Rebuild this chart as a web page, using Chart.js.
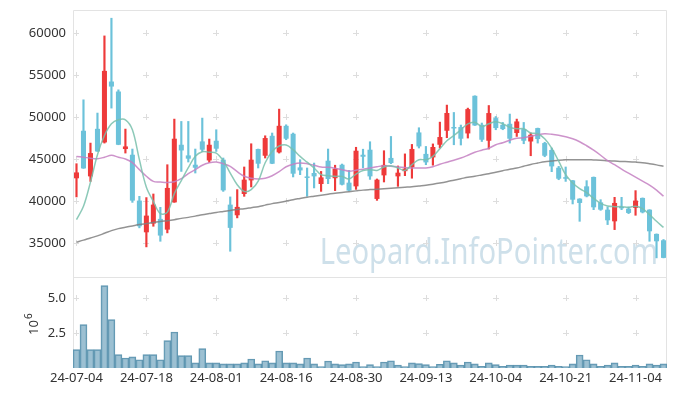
<!DOCTYPE html>
<html>
<head>
<meta charset="utf-8">
<script src="https://cdn.jsdelivr.net/npm/chart.js@4.4.1/dist/chart.umd.min.js"></script>
<style>
  html, body { margin: 0; padding: 0; background: #fff; }
</style>
</head>
<body>
<canvas id="stockChart" width="677" height="396"></canvas>
<script>
// Trading days shown on the x axis
const dates = [
  '24-07-04','24-07-05','24-07-08','24-07-09','24-07-10','24-07-11','24-07-12','24-07-15','24-07-16','24-07-17',
  '24-07-18','24-07-19','24-07-22','24-07-23','24-07-24','24-07-25','24-07-26','24-07-29','24-07-30','24-07-31',
  '24-08-01','24-08-02','24-08-05','24-08-06','24-08-07','24-08-08','24-08-09','24-08-12','24-08-13','24-08-14',
  '24-08-16','24-08-19','24-08-20','24-08-21','24-08-22','24-08-23','24-08-26','24-08-27','24-08-28','24-08-29',
  '24-08-30','24-09-02','24-09-03','24-09-04','24-09-05','24-09-06','24-09-09','24-09-10','24-09-11','24-09-12',
  '24-09-13','24-09-19','24-09-20','24-09-23','24-09-24','24-09-25','24-09-26','24-09-27','24-09-30','24-10-02',
  '24-10-04','24-10-07','24-10-08','24-10-10','24-10-11','24-10-14','24-10-15','24-10-16','24-10-17','24-10-18',
  '24-10-21','24-10-22','24-10-23','24-10-24','24-10-25','24-10-28','24-10-29','24-10-30','24-10-31','24-11-01',
  '24-11-04','24-11-05','24-11-06','24-11-07','24-11-08'
];

// Daily prices
const openPrices = [
  42700,48370,42930,48600,46980,54240,53050,46190,45510,40040,
  36260,37300,37860,36580,39830,46700,45430,44320,47100,44830,
  47180,44920,39560,38290,40830,42450,46190,45390,47770,45790,
  48960,48010,44000,42780,43330,42020,44800,42710,44320,42180,
  41740,45510,46110,40240,43050,45130,42930,43550,44000,48170,
  45610,45190,46700,48370,48730,48810,48050,52540,49080,47180,
  49880,49080,49200,48100,48570,47090,48690,46900,46070,43960,
  42810,42450,40270,41740,42860,39830,38960,37570,39290,39080,
  39170,40360,38960,36070,35310
];
const highPrices = [
  44440,52060,46900,50480,59680,61790,53250,48570,46190,40550,
  40400,40830,39240,44320,49760,49480,49480,46190,49880,47380,
  48490,45120,40480,41350,44050,46820,46190,47770,48100,50950,
  49080,48100,44920,43930,44520,43520,46190,44260,44400,43640,
  46400,46170,47060,42620,45990,47690,44170,45610,46740,48730,
  46500,46800,49400,51430,50550,49050,51070,52540,49290,51380,
  50070,49360,50360,49760,49360,48100,48690,47000,46310,44120,
  44050,42450,40270,42420,42860,40150,39290,40430,40430,39290,
  41230,40360,38960,36070,35400
];
const lowPrices = [
  40480,43880,42330,45900,46900,51070,46700,45710,39830,36790,
  34520,36980,35190,36190,39830,43520,44640,43330,45900,44600,
  45900,41140,34000,37980,40550,41670,43930,45120,44440,45710,
  47300,42860,43130,40550,41550,41140,42060,41230,41900,41200,
  41380,43960,42570,40070,42260,44440,41740,43010,42710,46310,
  44320,44260,46310,47540,46700,46670,47500,49000,47090,46190,
  48490,48490,46900,47690,46820,45390,46900,45270,43490,42530,
  42330,39640,37570,40480,38960,38880,37180,36580,38960,38490,
  38290,38570,35190,33210,33210
];
const closePrices = [
  43400,43880,45710,45900,55510,53640,46700,46500,40040,36980,
  38250,39560,35870,41550,47420,46020,45040,43960,46110,46700,
  46230,41260,36790,39290,42540,44920,44440,47500,44440,48960,
  47420,43250,43640,42740,42930,42810,42620,43850,41940,41230,
  45990,45270,42930,42540,44300,44520,43370,43850,46200,46500,
  44600,46430,47620,50490,48640,47420,50950,49000,47300,50480,
  48690,48570,47420,49480,47180,47890,47380,45390,44120,42650,
  42650,40150,39760,40550,39240,38960,37690,39760,39120,38570,
  40040,38640,36380,35190,33210
];

// Moving averages as drawn
const ma5 = [
  37770,39360,42240,45510,47800,49200,49680,49680,48490,44920,
  41640,39950,38490,38670,40870,42420,43960,45330,45870,45810,
  45710,44800,43330,41940,41140,41350,42360,44560,45900,46550,
  46670,46110,45310,44620,43930,43130,43010,42930,42930,42620,
  43210,43640,43730,43640,44050,44200,43930,43640,44320,44920,
  44920,45310,46230,47180,47800,48490,49200,49380,48880,49200,
  49440,49200,48790,48610,48610,48100,48010,47420,46310,44740,
  43130,42140,41460,40990,40300,39710,39400,39320,39320,39230,
  39360,39080,38370,37570,36850
];
const ma20 = [
  45310,45210,45100,45040,45210,45450,45210,45000,44560,43730,
  42950,42330,42260,42210,42300,42650,43250,43730,44260,44560,
  44650,44440,44120,43490,42950,42710,42620,42710,43010,43490,
  44080,44380,44520,44440,44260,44050,44020,43900,43730,43550,
  43670,43790,43930,44080,44200,44140,44060,43990,43930,43930,
  43930,44080,44380,44620,44860,45120,45450,45810,46050,46290,
  46700,46940,47240,47480,47540,47710,47890,48010,47950,47830,
  47650,47420,47060,46580,46050,45450,44800,44320,43790,43310,
  42830,42360,41880,41290,40570
];
const ma60 = [
  35090,35330,35590,35830,36140,36460,36700,36860,37020,37180,
  37300,37420,37560,37650,37770,37920,38040,38190,38350,38490,
  38630,38750,38870,38990,39080,39200,39320,39500,39680,39820,
  39980,40150,40300,40450,40570,40690,40810,40930,41020,41110,
  41200,41290,41350,41400,41460,41520,41580,41640,41700,41790,
  41880,42000,42140,42300,42480,42650,42830,42950,43100,43250,
  43430,43610,43790,43930,44140,44350,44520,44680,44770,44860,
  44920,44920,44920,44920,44890,44860,44800,44760,44710,44680,
  44630,44560,44440,44300,44130
];

// Daily volume (shares)
const volumes = [
  1310000,3090000,1310000,1310000,5880000,3450000,950000,710000,790000,590000,
  950000,950000,590000,1950000,2570000,880000,880000,360000,1380000,360000,
  360000,290000,290000,290000,360000,640000,290000,520000,360000,1210000,
  360000,360000,290000,710000,290000,110000,500000,290000,240000,290000,
  430000,110000,240000,110000,430000,520000,210000,110000,360000,310000,
  240000,110000,270000,520000,360000,210000,430000,290000,120000,360000,
  240000,120000,210000,210000,210000,120000,120000,120000,210000,120000,
  110000,290000,930000,590000,290000,120000,210000,360000,120000,120000,
  210000,120000,290000,210000,290000
];

// Axis ticks
const priceTicks = [35000, 40000, 45000, 50000, 55000, 60000];
const volumeTicks = [2500000, 5000000];
const labelStep = 10;

const upColor = '#EE3A3A';
const downColor = '#6CC2DA';
const candleColors = openPrices.map((o, i) => closePrices[i] >= o ? upColor : downColor);
const bodies = openPrices.map((o, i) => [o, closePrices[i]]);
const wicks = lowPrices.map((l, i) => [l, highPrices[i]]);

const labelFont = { family: 'Noto Sans', size: 13 };
const textColor = '#333';

// the y axes should not push the plot area in
function fixAxis(s) {
  s.width = 73;
  s.paddingTop = 0;
  s.paddingBottom = 0;
}

// Draws the frame, the little "+" grid marks, the watermark and the 10^6 title
const decorPlugin = {
  id: 'decor',
  beforeDatasetsDraw(chart) {
    const { ctx, chartArea, scales } = chart;
    const x = scales.x, y = scales.y, yv = scales.yv;

    ctx.save();
    ctx.font = '36px "Noto Sans"';
    ctx.fillStyle = 'rgba(165, 198, 216, 0.55)';
    ctx.textAlign = 'right';
    ctx.textBaseline = 'alphabetic';
    ctx.translate(chartArea.right - 9, y.bottom - 13);
    ctx.scale(0.81, 1);
    ctx.fillText('Leopard.InfoPointer.com', 0, 0);
    ctx.restore();

    ctx.save();
    ctx.strokeStyle = '#dddddd';
    ctx.lineWidth = 1;
    const cross = (px, py) => {
      ctx.beginPath();
      ctx.moveTo(px - 3, py + 0.5); ctx.lineTo(px + 3, py + 0.5);
      ctx.moveTo(px + 0.5, py - 3); ctx.lineTo(px + 0.5, py + 3);
      ctx.stroke();
    };
    for (let i = 0; i < dates.length; i += labelStep) {
      const px = Math.round(x.getPixelForValue(i));
      priceTicks.forEach(v => cross(px, Math.round(y.getPixelForValue(v))));
      volumeTicks.forEach(v => cross(px, Math.round(yv.getPixelForValue(v))));
    }

    ctx.strokeStyle = '#e3e3e3';
    ctx.beginPath();
    ctx.moveTo(chartArea.left + 0.5, chartArea.bottom);
    ctx.lineTo(chartArea.left + 0.5, chartArea.top + 0.5);
    ctx.lineTo(chartArea.right - 0.5, chartArea.top + 0.5);
    ctx.lineTo(chartArea.right - 0.5, chartArea.bottom);
    ctx.moveTo(chartArea.left, Math.round(y.bottom) + 0.5);
    ctx.lineTo(chartArea.right, Math.round(y.bottom) + 0.5);
    ctx.stroke();
    ctx.restore();
  },
  afterDraw(chart) {
    const { ctx, scales } = chart;
    const yv = scales.yv;
    ctx.save();
    ctx.translate(38, (yv.top + yv.bottom) / 2 + 2);
    ctx.rotate(-Math.PI / 2);
    ctx.fillStyle = textColor;
    ctx.font = '13px "Noto Sans"';
    ctx.textBaseline = 'alphabetic';
    const w = ctx.measureText('10').width;
    ctx.fillText('10', -w / 2 - 3, 0);
    ctx.font = '10px "Noto Sans"';
    ctx.fillText('6', w / 2 - 2, -6);
    ctx.restore();
  }
};

const stockChart = new Chart(document.getElementById('stockChart').getContext('2d'), {
  type: 'bar',
  data: {
    labels: dates,
    datasets: [
      {
        type: 'line', label: 'MA5', data: ma5, yAxisID: 'y',
        borderColor: 'rgba(120, 192, 172, 0.85)', borderWidth: 1.5,
        pointRadius: 0, tension: 0.35, order: 0
      },
      {
        type: 'line', label: 'MA20', data: ma20, yAxisID: 'y',
        borderColor: 'rgba(196, 128, 194, 0.85)', borderWidth: 1.5,
        pointRadius: 0, tension: 0.35, order: 0
      },
      {
        type: 'line', label: 'MA60', data: ma60, yAxisID: 'y',
        borderColor: 'rgba(128, 128, 128, 0.85)', borderWidth: 1.5,
        pointRadius: 0, tension: 0.35, order: 0
      },
      {
        label: 'Body', data: bodies, yAxisID: 'y',
        backgroundColor: candleColors, borderWidth: 0,
        grouped: false, barPercentage: 0.72, categoryPercentage: 1,
        minBarLength: 1.5, order: 1
      },
      {
        label: 'Wick', data: wicks, yAxisID: 'y',
        backgroundColor: candleColors, borderWidth: 0,
        grouped: false, barThickness: 1.5, order: 2
      },
      {
        label: 'Volume', data: volumes, yAxisID: 'yv',
        backgroundColor: 'rgba(118, 168, 192, 0.72)',
        borderColor: 'rgba(80, 140, 168, 0.9)', borderWidth: 1,
        grouped: false, barPercentage: 1, categoryPercentage: 1, order: 3
      }
    ]
  },
  options: {
    responsive: false,
    animation: false,
    devicePixelRatio: 1,
    layout: { padding: { top: 10, right: 10, left: 0, bottom: 0 } },
    plugins: { legend: { display: false }, tooltip: { enabled: false } },
    scales: {
      x: {
        grid: { display: false, drawTicks: false },
        border: { display: false },
        ticks: {
          autoSkip: false, maxRotation: 0, minRotation: 0, padding: 2,
          font: labelFont, color: textColor,
          callback: (v, i) => i % labelStep === 0 ? dates[i] : null
        },
        afterFit: s => { s.height = 28; }
      },
      yv: {
        stack: 'panes', stackWeight: 91, position: 'left',
        min: 0, max: 6490000,
        afterBuildTicks: s => { s.ticks = volumeTicks.map(v => ({ value: v })); },
        grid: { display: false, drawTicks: false },
        border: { display: false },
        ticks: { padding: 7, font: labelFont, color: textColor, callback: v => (v / 1e6).toFixed(1) },
        afterFit: fixAxis
      },
      y: {
        stack: 'panes', stackWeight: 267, position: 'left',
        min: 30930, max: 62770,
        afterBuildTicks: s => { s.ticks = priceTicks.map(v => ({ value: v })); },
        grid: { display: false, drawTicks: false },
        border: { display: false },
        ticks: { padding: 7, font: labelFont, color: textColor, callback: v => String(v) },
        afterFit: fixAxis
      }
    }
  },
  plugins: [decorPlugin]
});
</script>
</body>
</html>
